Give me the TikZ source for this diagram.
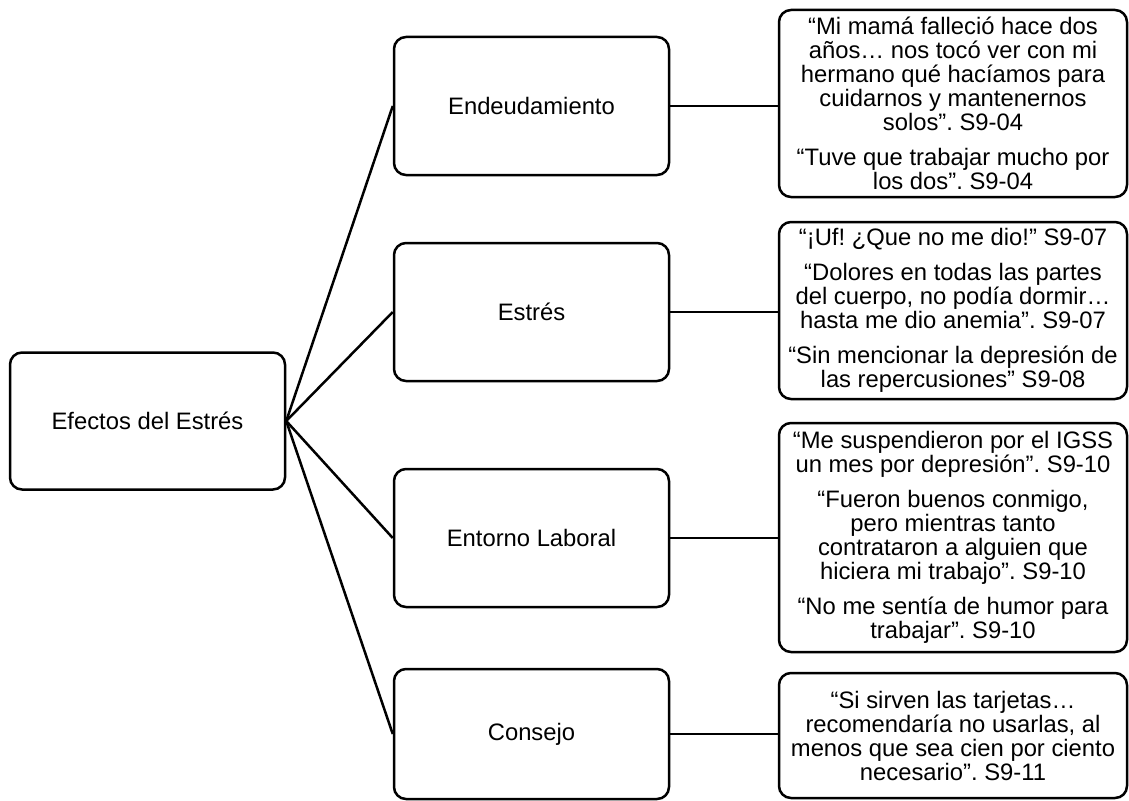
\documentclass[tikz,border=0pt]{standalone}
\usepackage{fontspec}
\setmainfont{Liberation Sans}
\frenchspacing
\begin{document}
\begin{tikzpicture}[x=1pt,y=-1pt,
  box/.style={draw=black, line width=2.5pt, rounded corners=12pt, fill=white, inner sep=0pt,
    font=\fontsize{23.8}{24}\selectfont\frenchspacing, align=center},
  mid/.style={box, minimum width=275pt, minimum height=138pt},
  quote/.style={box, minimum width=348pt},
  link/.style={draw=black, line width=2.5pt}]
\useasboundingbox (0,0) rectangle (1129,800);
% root
\node[box, minimum width=275pt, minimum height=137pt] (root) at (147.5,421) {Efectos del Estrés};
% middle level
\node[mid] (m1) at (531.5,106) {Endeudamiento};
\node[mid] (m2) at (531.5,312) {Estrés};
\node[mid] (m3) at (531.5,538) {Entorno Laboral};
\node[mid, minimum height=130pt] (m4) at (531.5,734) {Consejo};
% quote boxes
\node[quote, minimum height=187pt] (q1) at (953,103.5) {“Mi mamá falleció hace dos\\años… nos tocó ver con mi\\hermano qué hacíamos para\\cuidarnos y mantenernos\\solos”. S9-04\\[11pt]“Tuve que trabajar mucho por\\los dos”. S9-04};
\node[quote, minimum height=177pt] (q2) at (953,310.5) {“¡Uf! ¿Que no me dio!” S9-07\\[11pt]“Dolores en todas las partes\\del cuerpo, no podía dormir…\\hasta me dio anemia”. S9-07\\[11pt]“Sin mencionar la depresión de\\las repercusiones” S9-08};
\node[quote, minimum height=229pt] (q3) at (953,537.5) {“Me suspendieron por el IGSS\\un mes por depresión”. S9-10\\[11pt]“Fueron buenos conmigo,\\pero mientras tanto\\contrataron a alguien que\\hiciera mi trabajo”. S9-10\\[11pt]“No me sentía de humor para\\trabajar”. S9-10};
\node[quote, minimum height=125pt] (q4) at (953,735.5) {“Si sirven las tarjetas…\\recomendaría no usarlas, al\\menos que sea cien por ciento\\necesario”. S9-11};
% connectors
\foreach \m in {m1,m2,m3,m4} \draw[link] (root.east) -- (\m.west);
\draw[link] (m1.east) -- (m1.east -| q1.west);
\draw[link] (m2.east) -- (m2.east -| q2.west);
\draw[link] (m3.east) -- (m3.east -| q3.west);
\draw[link] (m4.east) -- (m4.east -| q4.west);
\end{tikzpicture}
\end{document}
